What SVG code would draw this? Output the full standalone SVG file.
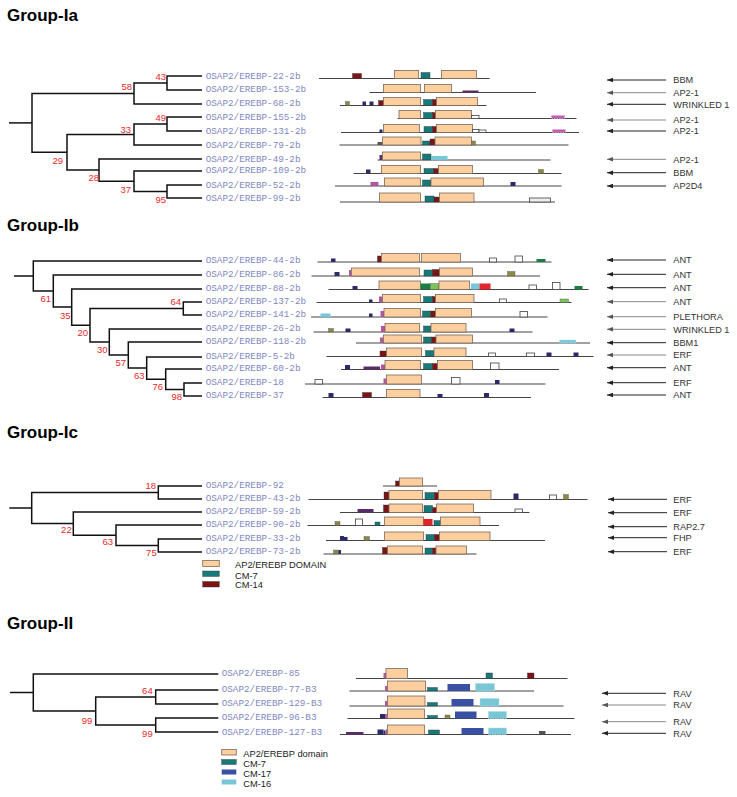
<svg xmlns="http://www.w3.org/2000/svg" width="737" height="797" viewBox="0 0 737 797">
<defs>
<style>
.hd{font-family:"Liberation Sans",Arial,sans-serif;font-weight:bold;font-size:17px;fill:#000}
.lb{font-family:"Liberation Mono","Courier New",monospace;font-size:9.3px;fill:#7f88c4}
.bs{font-family:"Liberation Sans",Arial,sans-serif;font-size:9.5px;fill:#e42a2a;text-anchor:end}
.an{font-family:"Liberation Sans",Arial,sans-serif;font-size:9.2px;fill:#333}
.lg{font-family:"Liberation Sans",Arial,sans-serif;font-size:9.3px;fill:#222}
.tree{fill:none;stroke:#111;stroke-width:1.5}
.ln{stroke:#444;stroke-width:1}
.ar{stroke:#222;stroke-width:1;marker-end:url(#ah)}
.ag{stroke:#888;stroke-width:1;marker-end:url(#ahg)}
.ap{fill:#fecf9e;stroke:#7a6a5a;stroke-width:0.8}
.t{fill:#177a78;stroke:#333;stroke-width:0.4}
.r{fill:#7a1416;stroke:#333;stroke-width:0.4}
.n{fill:#2b2a66}
.o{fill:#8a8a48;stroke:#555;stroke-width:0.4}
.p{fill:#b0569e}
.pu{fill:#5b2a68}
.c{fill:#78c6d6}
.w{fill:#fff;stroke:#444;stroke-width:0.8}
.wg{fill:#eee;stroke:#444;stroke-width:0.8}
.rd{fill:#e3232a}
.dg{fill:#1d7d44}
.lgn{fill:#7cc35a;stroke:#555;stroke-width:0.4}
.bl{fill:#3a51a3}
.cd{fill:#78c6d6;stroke:#a8dde8;stroke-width:0.8;stroke-dasharray:1.5 1}
.ph{fill:#c060b0;stroke:#e0a0d8;stroke-width:0.8;stroke-dasharray:1.5 1}
.gy{fill:#555}
</style>
<marker id="ah" viewBox="0 0 8 6" refX="8" refY="3" markerWidth="6" markerHeight="4.5" markerUnits="userSpaceOnUse" orient="auto"><path d="M0,0 L8,3 L0,6 z" fill="#222"/></marker>
<marker id="ahg" viewBox="0 0 8 6" refX="8" refY="3" markerWidth="6" markerHeight="4.5" markerUnits="userSpaceOnUse" orient="auto"><path d="M0,0 L8,3 L0,6 z" fill="#555"/></marker>
</defs>
<rect width="737" height="797" fill="#fff"/>

<text class="hd" x="7" y="21">Group-Ia</text>
<text class="hd" x="7" y="231">Group-Ib</text>
<text class="hd" x="7" y="438">Group-Ic</text>
<text class="hd" x="7" y="629">Group-II</text>

<g id="connectors">
<g id="tree-Ia" class="tree">
<path d="M9,122.9 H32"/>
<path d="M134,93.5 H32 V152.3 H67"/>
<path d="M167,83 H134 V104 H202"/>
<path d="M202,76 H167 V90 H202"/>
<path d="M134,134.5 H67 V170.1 H99"/>
<path d="M167,124 H134 V145 H202"/>
<path d="M202,117 H167 V131 H202"/>
<path d="M202,159 H99 V181.3 H134"/>
<path d="M202,171 H134 V191.5 H167"/>
<path d="M202,185 H167 V198 H202"/>
</g>
<g id="tree-Ib" class="tree">
<path d="M14,276 H33.3"/>
<path d="M202,261 H33.3 V291.1 H53.3"/>
<path d="M202,275 H53.3 V307.1 H71.7"/>
<path d="M202,289 H71.7 V325.3 H90"/>
<path d="M183.3,308.5 H90 V342 H109.3"/>
<path d="M202,302 H183.3 V315 H202"/>
<path d="M202,329 H109.3 V355 H128.3"/>
<path d="M202,342 H128.3 V368.1 H146.7"/>
<path d="M202,357 H146.7 V379.3 H165.7"/>
<path d="M202,369 H165.7 V389.5 H184"/>
<path d="M202,383 H184 V396 H202"/>
</g>
<g id="tree-Ic" class="tree">
<path d="M9.3,508 H31.7"/>
<path d="M158.3,492.5 H31.7 V523.6 H73.3"/>
<path d="M202,486 H158.3 V499 H202"/>
<path d="M202,512 H73.3 V535.3 H116"/>
<path d="M202,525 H116 V545.5 H158.3"/>
<path d="M202,539 H158.3 V552 H202"/>
</g>
<g id="tree-II" class="tree">
<path d="M10,692.5 H33.3"/>
<path d="M218.3,674 H33.3 V711 H95.7"/>
<path d="M155.7,697 H95.7 V725 H155.7"/>
<path d="M218.3,690 H155.7 V704 H218.3"/>
<path d="M218.3,718 H155.7 V732 H218.3"/>
</g>
<g id="arrows">
<line class="ar" x1="666" y1="80" x2="607" y2="80"/>
<line class="ag" x1="666" y1="92.7" x2="607" y2="92.7"/>
<line class="ar" x1="666" y1="104.3" x2="607" y2="104.3"/>
<line class="ag" x1="666" y1="120" x2="607" y2="120"/>
<line class="ar" x1="666" y1="131" x2="607" y2="131"/>
<line class="ag" x1="666" y1="159.3" x2="607" y2="159.3"/>
<line class="ar" x1="666" y1="172.7" x2="607" y2="172.7"/>
<line class="ar" x1="666" y1="186" x2="607" y2="186"/>

<line class="ar" x1="666" y1="260" x2="607" y2="260"/>
<line class="ar" x1="666" y1="274.3" x2="607" y2="274.3"/>
<line class="ar" x1="666" y1="287.7" x2="607" y2="287.7"/>
<line class="ag" x1="666" y1="301.7" x2="607" y2="301.7"/>
<line class="ag" x1="666" y1="316.7" x2="607" y2="316.7"/>
<line class="ag" x1="666" y1="329.3" x2="607" y2="329.3"/>
<line class="ar" x1="666" y1="342.7" x2="607" y2="342.7"/>
<line class="ag" x1="666" y1="355" x2="607" y2="355"/>
<line class="ar" x1="666" y1="367.7" x2="607" y2="367.7"/>
<line class="ar" x1="666" y1="382.7" x2="607" y2="382.7"/>
<line class="ar" x1="666" y1="395" x2="607" y2="395"/>

<line class="ar" x1="667" y1="499.3" x2="608" y2="499.3"/>
<line class="ar" x1="667" y1="512.7" x2="608" y2="512.7"/>
<line class="ar" x1="667" y1="526.7" x2="608" y2="526.7"/>
<line class="ar" x1="667" y1="537.7" x2="608" y2="537.7"/>
<line class="ar" x1="667" y1="551.7" x2="608" y2="551.7"/>

<line class="ar" x1="666" y1="693.3" x2="602" y2="693.3"/>
<line class="ag" x1="666" y1="705" x2="602" y2="705"/>
<line class="ag" x1="666" y1="721.7" x2="602" y2="721.7"/>
<line class="ar" x1="666" y1="733.3" x2="602" y2="733.3"/>
</g>
</g>

<g id="bootstrap">
<text class="bs" x="166" y="80">43</text>
<text class="bs" x="132" y="90">58</text>
<text class="bs" x="166" y="121">49</text>
<text class="bs" x="131" y="132.5">33</text>
<text class="bs" x="63" y="163.5">29</text>
<text class="bs" x="99" y="181">28</text>
<text class="bs" x="131" y="193">37</text>
<text class="bs" x="166" y="203">95</text>

<text class="bs" x="51" y="301.8">61</text>
<text class="bs" x="70.5" y="318.5">35</text>
<text class="bs" x="88" y="336">20</text>
<text class="bs" x="181" y="305">64</text>
<text class="bs" x="107.5" y="353">30</text>
<text class="bs" x="126" y="366">57</text>
<text class="bs" x="144.5" y="378.5">63</text>
<text class="bs" x="163" y="390">76</text>
<text class="bs" x="182" y="399.5">98</text>

<text class="bs" x="156" y="489">18</text>
<text class="bs" x="71.7" y="533">22</text>
<text class="bs" x="113" y="545">63</text>
<text class="bs" x="156.7" y="556">75</text>

<text class="bs" x="152.7" y="693.5">64</text>
<text class="bs" x="92.3" y="724">99</text>
<text class="bs" x="152.7" y="737">99</text>
</g>

<!-- Group Ia -->
<g id="Ia-22-2b"><text class="lb" x="205.7" y="78.7">OSAP2/EREBP-22-2b</text>
<line class="ln" x1="319" y1="78.5" x2="489.5" y2="78.5"/>
<rect class="r" x="352.5" y="73.5" width="9" height="5"/><rect class="ap" x="394.5" y="70.5" width="24" height="8"/><rect class="t" x="421" y="72.5" width="9" height="6"/><rect class="ap" x="441.5" y="70.5" width="35" height="8"/>
<text class="an" x="673.3" y="83.3">BBM</text></g>

<g id="Ia-153-2b"><text class="lb" x="205.7" y="91.7">OSAP2/EREBP-153-2b</text>
<line class="ln" x1="369.5" y1="92.5" x2="536" y2="92.5"/>
<rect class="ap" x="383.5" y="84.5" width="37" height="8"/><rect class="ap" x="424.5" y="84.5" width="27" height="8"/><rect class="pu" x="462.5" y="90.5" width="16" height="2"/>
<text class="an" x="673.3" y="96">AP2-1</text></g>

<g id="Ia-68-2b"><text class="lb" x="205.7" y="105.7">OSAP2/EREBP-68-2b</text>
<line class="ln" x1="340" y1="105.5" x2="486.5" y2="105.5"/>
<rect class="o" x="345.5" y="101.5" width="4" height="4"/><rect class="n" x="362.5" y="101.5" width="3.5" height="4"/><rect class="n" x="369.5" y="101.5" width="4" height="4"/><rect class="r" x="378.5" y="100.5" width="5" height="5"/><rect class="ap" x="383.5" y="97.5" width="37" height="8"/><rect class="t" x="423.5" y="99.5" width="9" height="6"/><rect class="r" x="432.5" y="99.5" width="4" height="6"/><rect class="ap" x="436.5" y="97.5" width="41" height="8"/>
<text class="an" x="673.3" y="107.6">WRINKLED 1</text></g>

<g id="Ia-155-2b"><text class="lb" x="205.7" y="119.7">OSAP2/EREBP-155-2b</text>
<line class="ln" x1="397.5" y1="118.5" x2="576.5" y2="118.5"/>
<rect class="ap" x="399" y="110.5" width="21.5" height="8"/><rect class="t" x="423.5" y="112.5" width="9" height="6"/><rect class="r" x="432.5" y="112.5" width="3" height="6"/><rect class="ap" x="435.5" y="110.5" width="36" height="8"/><rect class="w" x="471.5" y="115.5" width="7.5" height="3"/><rect class="ph" x="551.5" y="115.5" width="13" height="3"/>
<text class="an" x="673.3" y="123.3">AP2-1</text></g>

<g id="Ia-131-2b"><text class="lb" x="205.7" y="134">OSAP2/EREBP-131-2b</text>
<line class="ln" x1="341" y1="132.5" x2="579" y2="132.5"/>
<rect class="n" x="379.5" y="129.5" width="3" height="3"/><rect class="ap" x="383.5" y="124.5" width="36" height="8"/><rect class="t" x="424" y="126.5" width="8.5" height="6"/><rect class="r" x="432.5" y="126.5" width="4" height="6"/><rect class="ap" x="436.5" y="124.5" width="36" height="8"/><rect class="w" x="472.5" y="129.5" width="6.5" height="3"/><rect class="w" x="479" y="130" width="7" height="2.5"/><rect class="ph" x="552.5" y="129.5" width="13" height="3"/>
<text class="an" x="673.3" y="134.3">AP2-1</text></g>

<g id="Ia-79-2b"><text class="lb" x="205.7" y="148">OSAP2/EREBP-79-2b</text>
<line class="ln" x1="339.5" y1="145" x2="568.5" y2="145"/>
<rect class="gy" x="377.5" y="142" width="5" height="3"/><rect class="ap" x="382.5" y="137" width="38.5" height="8"/><rect class="t" x="422.5" y="141" width="7.5" height="4"/><rect class="r" x="430" y="139" width="5" height="6"/><rect class="ap" x="435" y="137" width="36.5" height="8"/><rect class="o" x="471.5" y="141" width="4" height="4"/></g>

<g id="Ia-49-2b"><text class="lb" x="205.7" y="162">OSAP2/EREBP-49-2b</text>
<line class="ln" x1="377.5" y1="160" x2="550.5" y2="160"/>
<rect class="pu" x="379.5" y="155" width="3" height="5"/><rect class="ap" x="382.5" y="152" width="38" height="8"/><rect class="t" x="422.5" y="154" width="8.5" height="6"/><rect class="c" x="431" y="156" width="16.5" height="4"/>
<text class="an" x="673.3" y="162.6">AP2-1</text></g>

<g id="Ia-109-2b"><text class="lb" x="205.7" y="173.3">OSAP2/EREBP-109-2b</text>
<line class="ln" x1="353.5" y1="173.5" x2="561.5" y2="173.5"/>
<rect class="n" x="366" y="169.5" width="4.5" height="4"/><rect class="ap" x="381.5" y="165.5" width="39" height="8"/><rect class="t" x="424" y="168.5" width="9.5" height="5"/><rect class="r" x="433.5" y="168.5" width="5" height="5"/><rect class="ap" x="438.5" y="165.5" width="34" height="8"/><rect class="o" x="538.5" y="169.5" width="5" height="4"/>
<text class="an" x="673.3" y="176">BBM</text></g>

<g id="Ia-52-2b"><text class="lb" x="205.7" y="188">OSAP2/EREBP-52-2b</text>
<line class="ln" x1="335" y1="186" x2="561.5" y2="186"/>
<rect class="p" x="370.5" y="182" width="8" height="4"/><rect class="ap" x="384.5" y="178" width="36" height="8"/><rect class="t" x="422.5" y="180" width="8.5" height="6"/><rect class="ap" x="431" y="178" width="52.5" height="8"/><rect class="n" x="510.5" y="182" width="5" height="4"/>
<text class="an" x="673.3" y="189.3">AP2D4</text></g>

<g id="Ia-99-2b"><text class="lb" x="205.7" y="200.7">OSAP2/EREBP-99-2b</text>
<line class="ln" x1="340" y1="202" x2="555" y2="202"/>
<rect class="ap" x="379.5" y="193" width="41" height="9"/><rect class="t" x="425" y="196" width="9" height="6"/><rect class="r" x="434" y="197" width="5.5" height="5"/><rect class="ap" x="439.5" y="193" width="34.5" height="9"/><rect class="wg" x="529.5" y="198" width="21" height="4"/></g>

<!-- Group Ib -->
<g id="Ib-44-2b"><text class="lb" x="205.7" y="263">OSAP2/EREBP-44-2b</text>
<line class="ln" x1="317.5" y1="262" x2="551.5" y2="262"/>
<rect class="n" x="331" y="258.5" width="4.5" height="3.5"/><rect class="r" x="377.5" y="256" width="4" height="6"/><rect class="ap" x="381.5" y="253.5" width="38" height="8.5"/><rect class="ap" x="421.5" y="253.5" width="39" height="8.5"/><rect class="w" x="489.5" y="258" width="7" height="4"/><rect class="w" x="515" y="256" width="7.5" height="6"/><rect class="dg" x="536.5" y="259" width="9" height="3"/>
<text class="an" x="673.3" y="263.3">ANT</text></g>

<g id="Ib-86-2b"><text class="lb" x="205.7" y="276.7">OSAP2/EREBP-86-2b</text>
<line class="ln" x1="311.5" y1="276" x2="540" y2="276"/>
<rect class="n" x="334.5" y="272" width="5" height="4"/><rect class="p" x="349" y="270" width="2.5" height="6"/><rect class="ap" x="351.5" y="268" width="68" height="8"/><rect class="t" x="424" y="270" width="8.5" height="6"/><rect class="r" x="432.5" y="269.5" width="7" height="6.5"/><rect class="ap" x="439.5" y="268" width="33" height="8"/><rect class="o" x="507.5" y="271.5" width="7.5" height="4.5"/>
<text class="an" x="673.3" y="277.6">ANT</text></g>

<g id="Ib-88-2b"><text class="lb" x="205.7" y="290.7">OSAP2/EREBP-88-2b</text>
<line class="ln" x1="328.5" y1="289.5" x2="588.5" y2="289.5"/>
<rect class="n" x="352.5" y="286" width="5" height="3.5"/><rect class="ap" x="379" y="281" width="41.5" height="8.5"/><rect class="dg" x="420.5" y="283.5" width="10" height="6"/><rect class="lgn" x="430.5" y="283.5" width="8.5" height="6"/><rect class="ap" x="439" y="281" width="30.5" height="8.5"/><rect class="c" x="471" y="283.5" width="8.5" height="6"/><rect class="rd" x="479.5" y="283.5" width="11" height="6"/><rect class="w" x="529" y="285" width="7.5" height="4.5"/><rect class="w" x="552.5" y="282.5" width="7.5" height="7"/><rect class="dg" x="574.5" y="286" width="8" height="3.5"/>
<text class="an" x="673.3" y="291">ANT</text></g>

<g id="Ib-137-2b"><text class="lb" x="205.7" y="304">OSAP2/EREBP-137-2b</text>
<line class="ln" x1="316.5" y1="302.5" x2="571.5" y2="302.5"/>
<rect class="n" x="369" y="299.5" width="3.5" height="3"/><rect class="p" x="379" y="296.5" width="3.5" height="6"/><rect class="ap" x="382.5" y="294.5" width="38" height="8"/><rect class="t" x="423.5" y="296.5" width="9" height="6"/><rect class="r" x="432.5" y="296.5" width="3" height="6"/><rect class="ap" x="435.5" y="294.5" width="38.5" height="8"/><rect class="w" x="499.5" y="299" width="7" height="3.5"/><rect class="lgn" x="560" y="299" width="8.5" height="3.5"/>
<text class="an" x="673.3" y="305">ANT</text></g>

<g id="Ib-141-2b"><text class="lb" x="205.7" y="317">OSAP2/EREBP-141-2b</text>
<line class="ln" x1="311" y1="317" x2="547.5" y2="317"/>
<rect class="c" x="320.5" y="313.5" width="10" height="3.5"/><rect class="n" x="369" y="313.5" width="3.5" height="3.5"/><rect class="p" x="380.5" y="311" width="3.5" height="6"/><rect class="ap" x="384" y="308.5" width="36.5" height="8.5"/><rect class="t" x="422.5" y="311" width="8" height="6"/><rect class="r" x="430.5" y="311" width="5" height="6"/><rect class="ap" x="435.5" y="308.5" width="36" height="8.5"/><rect class="w" x="520" y="311.5" width="7.5" height="5.5"/>
<text class="an" x="673.3" y="320">PLETHORA</text></g>

<g id="Ib-26-2b"><text class="lb" x="205.7" y="331.3">OSAP2/EREBP-26-2b</text>
<line class="ln" x1="313.5" y1="332" x2="532.5" y2="332"/>
<rect class="o" x="328.5" y="328.5" width="5" height="3.5"/><rect class="n" x="345.5" y="328.5" width="5" height="3.5"/><rect class="p" x="381" y="326" width="4" height="6"/><rect class="ap" x="385" y="323.5" width="34.5" height="8.5"/><rect class="t" x="423.5" y="326" width="7.5" height="6"/><rect class="ap" x="431" y="323.5" width="35" height="8.5"/><rect class="n" x="509.5" y="328.5" width="5" height="3.5"/>
<text class="an" x="673.3" y="332.6">WRINKLED 1</text></g>

<g id="Ib-118-2b"><text class="lb" x="205.7" y="343.7">OSAP2/EREBP-118-2b</text>
<line class="ln" x1="356" y1="343" x2="590" y2="343"/>
<rect class="p" x="380" y="337.5" width="3.5" height="5.5"/><rect class="ap" x="383.5" y="335" width="38" height="8"/><rect class="t" x="423.5" y="337" width="8" height="6"/><rect class="r" x="431.5" y="337" width="4.5" height="6"/><rect class="ap" x="436" y="335" width="36.5" height="8"/><rect class="cd" x="559.5" y="340" width="16.5" height="3"/>
<text class="an" x="673.3" y="346">BBM1</text></g>

<g id="Ib-5-2b"><text class="lb" x="205.7" y="358.7">OSAP2/EREBP-5-2b</text>
<line class="ln" x1="326.5" y1="356.5" x2="593.5" y2="356.5"/>
<rect class="r" x="380" y="351" width="6.5" height="5.5"/><rect class="ap" x="386.5" y="348" width="35" height="8.5"/><rect class="t" x="425.5" y="350.5" width="8.5" height="6"/><rect class="ap" x="434" y="348" width="32" height="8.5"/><rect class="w" x="488.5" y="353" width="7" height="3.5"/><rect class="w" x="526.5" y="353" width="8" height="3.5"/><rect class="n" x="546.5" y="352.5" width="5" height="4"/><rect class="n" x="573.5" y="352.5" width="5" height="4"/>
<text class="an" x="673.3" y="358.3">ERF</text></g>

<g id="Ib-60-2b"><text class="lb" x="205.7" y="370.7">OSAP2/EREBP-60-2b</text>
<line class="ln" x1="341" y1="369.5" x2="559" y2="369.5"/>
<rect class="n" x="345" y="365" width="5" height="4.5"/><rect class="pu" x="363.5" y="366.5" width="16.5" height="3"/><rect class="p" x="381" y="364.5" width="4" height="5"/><rect class="ap" x="385" y="360.5" width="35.5" height="9"/><rect class="t" x="423.5" y="363.5" width="9" height="6"/><rect class="r" x="432.5" y="363.5" width="5" height="6"/><rect class="ap" x="437.5" y="360.5" width="35" height="9"/><rect class="w" x="490.5" y="363" width="8.5" height="6.5"/>
<text class="an" x="673.3" y="371">ANT</text></g>

<g id="Ib-18"><text class="lb" x="205.7" y="384.7">OSAP2/EREBP-18</text>
<line class="ln" x1="305" y1="384" x2="545.5" y2="384"/>
<rect class="w" x="315" y="379.5" width="7.5" height="4.5"/><rect class="p" x="383.5" y="378.5" width="3" height="5.5"/><rect class="ap" x="386.5" y="375" width="35" height="9"/><rect class="w" x="451.5" y="377.5" width="8.5" height="6.5"/><rect class="n" x="495" y="380" width="4.5" height="4"/>
<text class="an" x="673.3" y="386">ERF</text></g>

<g id="Ib-37"><text class="lb" x="205.7" y="398">OSAP2/EREBP-37</text>
<line class="ln" x1="322.5" y1="397.5" x2="531" y2="397.5"/>
<rect class="n" x="328.5" y="393" width="5" height="4.5"/><rect class="r" x="362.5" y="392.5" width="9" height="5"/><rect class="ap" x="386.5" y="389.5" width="33.5" height="8"/><rect class="n" x="437.5" y="394" width="5" height="3.5"/><rect class="n" x="484" y="393" width="5" height="4.5"/>
<text class="an" x="673.3" y="398.3">ANT</text></g>

<!-- Group Ic -->
<g id="Ic-92"><text class="lb" x="205.7" y="488">OSAP2/EREBP-92</text>
<line class="ln" x1="383" y1="486" x2="437" y2="486"/>
<rect class="r" x="395.5" y="481" width="4" height="5"/><rect class="ap" x="399.5" y="478" width="23" height="8"/></g>

<g id="Ic-43-2b"><text class="lb" x="205.7" y="501">OSAP2/EREBP-43-2b</text>
<line class="ln" x1="308.5" y1="499.5" x2="587.5" y2="499.5"/>
<rect class="r" x="384" y="492" width="5" height="7.5"/><rect class="ap" x="389" y="490.5" width="33.5" height="9"/><rect class="t" x="425" y="492.5" width="9.5" height="7"/><rect class="r" x="434.5" y="492.5" width="4" height="7"/><rect class="ap" x="438.5" y="490.5" width="52.5" height="9"/><rect class="n" x="513.5" y="493.5" width="5" height="6"/><rect class="w" x="549.5" y="495" width="7" height="4.5"/><rect class="o" x="563.5" y="494.5" width="5" height="5"/>
<text class="an" x="673.3" y="502.6">ERF</text></g>

<g id="Ic-59-2b"><text class="lb" x="205.7" y="514">OSAP2/EREBP-59-2b</text>
<line class="ln" x1="340" y1="512.5" x2="529.5" y2="512.5"/>
<rect class="pu" x="357.5" y="509" width="16" height="3.5"/><rect class="r" x="383.5" y="505" width="5.5" height="7.5"/><rect class="ap" x="389" y="504" width="33.5" height="8.5"/><rect class="t" x="424" y="505.5" width="8.5" height="7"/><rect class="r" x="432.5" y="507.5" width="4" height="5"/><rect class="ap" x="436.5" y="504" width="37" height="8.5"/><rect class="w" x="515" y="509" width="7.5" height="3.5"/>
<text class="an" x="673.3" y="516">ERF</text></g>

<g id="Ic-90-2b"><text class="lb" x="205.7" y="527">OSAP2/EREBP-90-2b</text>
<line class="ln" x1="307.5" y1="525.5" x2="499" y2="525.5"/>
<rect class="o" x="335" y="521.5" width="5" height="4"/><rect class="w" x="355.5" y="519" width="7" height="6.5"/><rect class="t" x="375" y="522" width="5" height="3.5"/><rect class="ap" x="384.5" y="517" width="39" height="8.5"/><rect class="rd" x="423.5" y="519" width="9" height="6.5"/><rect class="t" x="434" y="520.5" width="6.5" height="5"/><rect class="ap" x="440.5" y="517" width="39.5" height="8.5"/>
<text class="an" x="673.3" y="530">RAP2.7</text></g>

<g id="Ic-33-2b"><text class="lb" x="205.7" y="541">OSAP2/EREBP-33-2b</text>
<line class="ln" x1="326" y1="540.5" x2="545" y2="540.5"/>
<rect class="n" x="340" y="536" width="4" height="4.5"/><rect class="n" x="344" y="537" width="3.5" height="3.5"/><rect class="o" x="364" y="536.5" width="5.5" height="4"/><rect class="ap" x="384.5" y="532" width="39" height="8.5"/><rect class="t" x="426" y="534.5" width="8.5" height="6"/><rect class="r" x="434.5" y="534.5" width="5" height="6"/><rect class="ap" x="439.5" y="532" width="50.5" height="8.5"/>
<text class="an" x="673.3" y="541">FHP</text></g>

<g id="Ic-73-2b"><text class="lb" x="205.7" y="554">OSAP2/EREBP-73-2b</text>
<line class="ln" x1="323.5" y1="554" x2="476.5" y2="554"/>
<rect class="o" x="333.5" y="550" width="5" height="4"/><rect class="n" x="338.5" y="550" width="2.5" height="4"/><rect class="r" x="382.5" y="547.5" width="5" height="6.5"/><rect class="ap" x="387.5" y="546" width="35" height="8"/><rect class="t" x="425" y="548" width="7.5" height="6"/><rect class="r" x="432.5" y="548" width="3.5" height="6"/><rect class="ap" x="436" y="546" width="30.5" height="8"/>
<text class="an" x="673.3" y="555">ERF</text></g>

<g id="legend-Ic">
<rect class="ap" x="202.7" y="560.5" width="16.6" height="6"/>
<rect class="t" x="202.7" y="571" width="16.6" height="5.5"/>
<rect class="r" x="202.7" y="581.5" width="16.6" height="5.5"/>
<text class="lg" x="235" y="567.5">AP2/EREBP DOMAIN</text>
<text class="lg" x="235" y="578.5">CM-7</text>
<text class="lg" x="235" y="587.5">CM-14</text>
</g>

<!-- Group II -->
<g id="II-85"><text class="lb" x="221.7" y="676.3">OSAP2/EREBP-85</text>
<line class="ln" x1="356" y1="678.5" x2="567.5" y2="678.5"/>
<rect class="p" x="383.5" y="673" width="2.5" height="5.5"/><rect class="ap" x="386" y="668.5" width="21.5" height="10"/><rect class="t" x="486" y="673" width="6.5" height="5.5"/><rect class="r" x="527.5" y="673" width="6.5" height="5.5"/></g>

<g id="II-77-B3"><text class="lb" x="221.7" y="692.3">OSAP2/EREBP-77-B3</text>
<line class="ln" x1="349.5" y1="691" x2="534" y2="691"/>
<rect class="p" x="385" y="686" width="2.5" height="5"/><rect class="ap" x="387.5" y="681" width="38" height="10"/><rect class="t" x="427.5" y="687.5" width="10" height="3.5"/><rect class="bl" x="447.5" y="684" width="22.5" height="7"/><rect class="cd" x="475.5" y="683.5" width="19" height="7.5"/>
<text class="an" x="673.3" y="696.6">RAV</text></g>

<g id="II-129-B3"><text class="lb" x="221.7" y="706.3">OSAP2/EREBP-129-B3</text>
<line class="ln" x1="349.5" y1="706" x2="563.5" y2="706"/>
<rect class="p" x="385" y="701" width="2.5" height="5"/><rect class="ap" x="387.5" y="696" width="37.5" height="10"/><rect class="t" x="427.5" y="702.5" width="10" height="3.5"/><rect class="bl" x="451.5" y="699" width="22" height="7"/><rect class="cd" x="480" y="698.5" width="19" height="7.5"/>
<text class="an" x="673.3" y="708.3">RAV</text></g>

<g id="II-96-B3"><text class="lb" x="221.7" y="720.3">OSAP2/EREBP-96-B3</text>
<line class="ln" x1="347.5" y1="718.5" x2="574.5" y2="718.5"/>
<rect class="n" x="380" y="714" width="5" height="4.5"/><rect class="p" x="385" y="714" width="2.5" height="4.5"/><rect class="ap" x="387.5" y="709" width="37" height="9.5"/><rect class="t" x="427.5" y="715.5" width="10" height="3"/><rect class="o" x="445" y="715" width="5" height="3.5"/><rect class="bl" x="455" y="711.5" width="21.5" height="7"/><rect class="cd" x="488.5" y="711.5" width="18" height="7"/>
<text class="an" x="673.3" y="725">RAV</text></g>

<g id="II-127-B3"><text class="lb" x="221.7" y="734.7">OSAP2/EREBP-127-B3</text>
<line class="ln" x1="340" y1="734.5" x2="571" y2="734.5"/>
<rect class="pu" x="346" y="732" width="17.5" height="2.5"/><rect class="n" x="377.5" y="729.5" width="6" height="5"/><rect class="n" x="383.5" y="730.5" width="2" height="4"/><rect class="p" x="385.5" y="729.5" width="2" height="5"/><rect class="ap" x="387.5" y="725" width="37" height="9.5"/><rect class="t" x="428.5" y="730" width="11" height="4.5"/><rect class="bl" x="461.5" y="728" width="22" height="6.5"/><rect class="cd" x="488.5" y="728" width="18" height="6.5"/><rect class="gy" x="539" y="731" width="6.5" height="3.5"/>
<text class="an" x="673.3" y="736.6">RAV</text></g>

<g id="legend-II">
<rect class="ap" x="221.7" y="749.5" width="14.6" height="5.5"/>
<rect class="t" x="221.7" y="759.5" width="14.6" height="5"/>
<rect class="bl" x="221.7" y="769.5" width="14.6" height="5"/>
<rect class="c" x="221.7" y="779.5" width="14.6" height="5"/>
<text class="lg" x="243.3" y="756.5">AP2/EREBP domain</text>
<text class="lg" x="243.3" y="766.5">CM-7</text>
<text class="lg" x="243.3" y="776.5">CM-17</text>
<text class="lg" x="243.3" y="786.5">CM-16</text>
</g>
</svg>
